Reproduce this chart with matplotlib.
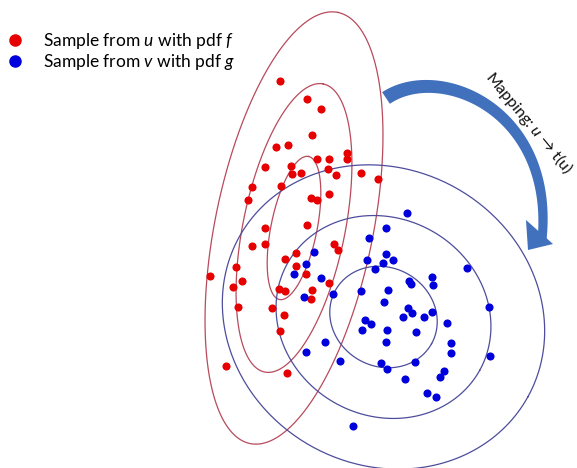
import numpy as np
import matplotlib
matplotlib.use("Agg")
import matplotlib.pyplot as plt
from matplotlib.lines import Line2D
from matplotlib.patches import Polygon

plt.rcParams['font.family'] = ['Lato', 'DejaVu Sans']
plt.rcParams['mathtext.fontset'] = 'custom'
plt.rcParams['mathtext.it'] = 'Lato:italic'
plt.rcParams['mathtext.rm'] = 'Lato'

# sample from u (pixel-like coordinates of the sketch)
red_x = [280, 307, 321, 312, 276, 288, 347, 347, 317, 329, 265, 291, 292, 301, 328,
         336, 361, 378, 252, 281, 248, 311, 317, 329, 307, 265, 252, 265, 334, 338,
         296, 285, 236, 296, 210, 242, 306, 233, 279, 285, 312, 329, 311, 238, 272,
         284, 280, 226, 287]
red_y = [81, 99, 109, 135, 147, 145, 153, 159, 159, 159, 167, 166, 174, 173, 169,
         175, 173, 179, 187, 186, 200, 198, 200, 194, 225, 228, 246, 244, 244, 250,
         253, 259, 267, 266, 276, 281, 274, 287, 289, 291, 290, 283, 299, 307, 308,
         315, 331, 366, 373]

# sample from v
blue_x = [407, 386, 369, 386, 367, 383, 393, 375, 314, 306, 294, 321, 333, 304, 361,
          388, 384, 409, 411, 432, 433, 467, 408, 412, 403, 424, 432, 365, 371, 362,
          387, 416, 447, 489, 386, 451, 451, 325, 306, 340, 490, 381, 387, 415, 444,
          440, 405, 427, 436, 353]
blue_y = [213, 228, 238, 254, 260, 263, 260, 269, 252, 264, 274, 278, 294, 297, 291,
          290, 302, 281, 284, 277, 285, 268, 308, 313, 317, 317, 312, 320, 324, 330,
          330, 332, 323, 307, 342, 343, 353, 342, 352, 361, 356, 363, 369, 362, 371,
          377, 379, 393, 397, 426]

# density contours: centre, tilt (deg from vertical), semi-axes
f_center = (294, 228)
f_tilt = 11.5
f_major = [220, 147, 73]
f_minor = [79, 51, 23]

g_center = (383.5, 317)
g_tilt = 119
g_major = [165, 110, 55]
g_minor = [148, 98.7, 49.4]

labels = ["Sample from $u$ with pdf $f$", "Sample from $v$ with pdf $g$"]


def contour(ax, center, tilt, a, b, color):
    t = np.linspace(0, 2*np.pi, 400)
    phi = np.radians(tilt)
    u = np.array([np.sin(phi), -np.cos(phi)])
    v = np.array([np.cos(phi), np.sin(phi)])
    x = center[0] + a*np.cos(t)*u[0] + b*np.sin(t)*v[0]
    y = center[1] + a*np.cos(t)*u[1] + b*np.sin(t)*v[1]
    ax.plot(x, y, color=color, lw=0.9, zorder=2)


fig = plt.figure(figsize=(5.77, 4.68), dpi=100)
ax = fig.add_axes([0, 0, 1, 1])
ax.set_xlim(0, 577)
ax.set_ylim(468, 0)
ax.axis("off")

for a, b in zip(f_major, f_minor):
    contour(ax, f_center, f_tilt, a, b, "#b84a5c")
for a, b in zip(g_major, g_minor):
    contour(ax, g_center, g_tilt, a, b, "#4d4d9c")

ax.scatter(red_x, red_y, s=34, color="#e60000", lw=0, zorder=3)
ax.scatter(blue_x, blue_y, s=34, color="#0000dc", lw=0, zorder=3)

# curved mapping arrow
P = np.array([[386, 98], [440, 62], [555, 110], [542, 240]], float)
t = np.linspace(0, 1, 80)[:, None]
B = ((1-t)**3*P[0] + 3*(1-t)**2*t*P[1] + 3*(1-t)*t**2*P[2] + t**3*P[3])
dB = (3*(1-t)**2*(P[1]-P[0]) + 6*(1-t)*t*(P[2]-P[1]) + 3*t**2*(P[3]-P[2]))
n = np.column_stack([-dB[:, 1], dB[:, 0]]) / np.linalg.norm(dB, axis=1)[:, None]
w = (14 - 5*t) / 2
shaft = np.vstack([B + n*w, (B - n*w)[::-1]])
ax.add_patch(Polygon(shaft, closed=True, color="#4170bd", lw=0, zorder=4))
head = np.array([[526, 220], [553, 244], [528, 250]])
ax.add_patch(Polygon(head, closed=True, color="#4170bd", lw=0, zorder=4))

ax.text(529, 123, "Mapping: $u$ \u2192 t(u)", rotation=-50.5, rotation_mode="anchor",
        ha="center", va="center", fontsize=11.5, color="#111111", zorder=5)

handles = [Line2D([], [], ls="", marker="o", ms=8, color="#e60000"),
           Line2D([], [], ls="", marker="o", ms=8, color="#0000dc")]
ax.legend(handles, labels, loc="upper left", bbox_to_anchor=(-0.013, 0.96),
          frameon=False, fontsize=12.5, handletextpad=1.0, labelspacing=0.05,
          handlelength=1.2, borderpad=0.2)

fig.savefig("out.png", dpi=100)
